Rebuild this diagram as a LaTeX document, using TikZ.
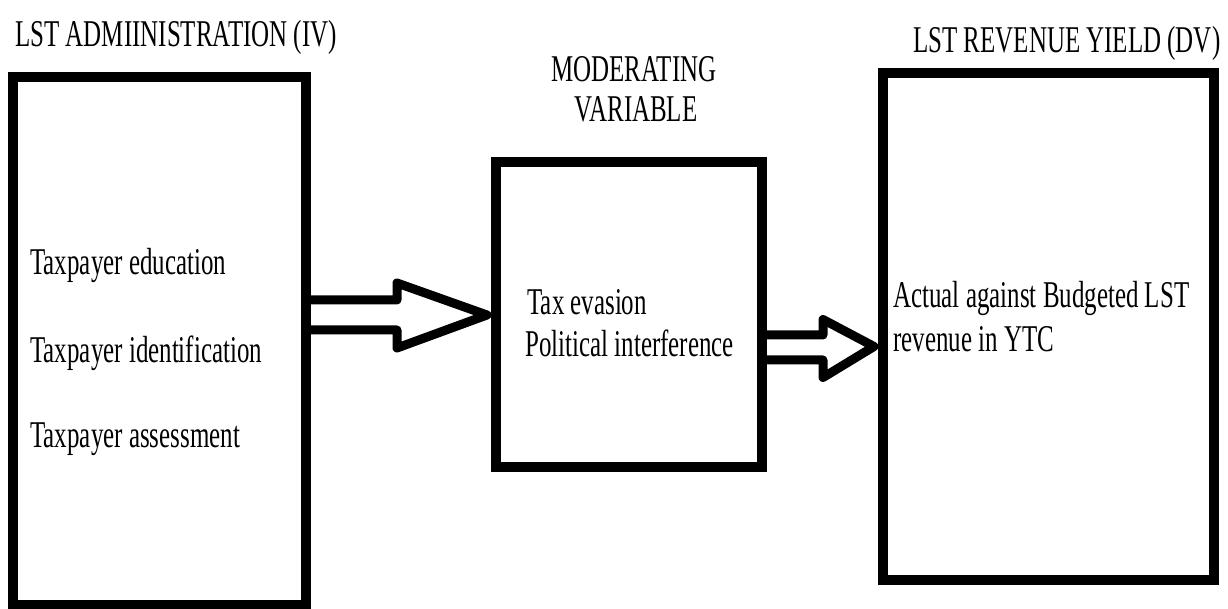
\documentclass[tikz,border=0pt]{standalone}
\usepackage{fontspec}
\usepackage{tikz}
\usetikzlibrary{calc}

\newfontfamily\condserif{Liberation Serif}[FakeStretch=0.66]

\begin{document}
\begin{tikzpicture}[x=0.5pt,y=-0.5pt,
    varbox/.style={draw, line width=5pt, inner sep=0pt},
    txt/.style={font={\condserif\fontsize{18.9pt}{21pt}\selectfont}, inner sep=0pt},
    fatarrow/.style={draw, line width=4.5pt, line join=round}]
            \useasboundingbox (0,0) rectangle (1228,609);

            % Draw the three boxes
            \node[varbox, minimum width=146.5pt, minimum height=264pt] (adm) at (159.5,341) {};
            \node[varbox, minimum width=133pt, minimum height=152.5pt] (mod) at (629,314.5) {};
            \node[varbox, minimum width=165.5pt, minimum height=253.5pt] (rev) at (1048.5,326.5) {};

            % Headings above the boxes
            \node[txt, anchor=base west] (ivtitle) at (15,47) {LST ADMIINISTRATION (IV)};
            \node[txt, anchor=base] (mvtitle) at (634,82) {MODERATING};
            \node[txt, anchor=base] (mvtitleb) at (636,122) {VARIABLE};
            \node[txt, anchor=base west] (dvtitle) at (913,53) {LST REVENUE YIELD (DV)};

            % Texts in the boxes
            \node[txt, anchor=base west] (educ) at (30,275) {Taxpayer education};
            \node[txt, anchor=base west] (ident) at (30,363) {Taxpayer identification};
            \node[txt, anchor=base west] (assess) at (30,448) {Taxpayer assessment};
            \node[txt, anchor=base west] (evasion) at (527,315) {Tax evasion};
            \node[txt, anchor=base west] (polit) at (525,357) {Political interference};
            \node[txt, anchor=base west] (actual) at (893,308) {Actual against Budgeted LST};
            \node[txt, anchor=base west] (ytc) at (893,352) {revenue in YTC};

            % Add the hollow arrows
            \coordinate (tailA) at (adm.east |- 0,315);
            \coordinate (headA) at (mod.west |- 0,315);
            \draw[fatarrow] ($(tailA)+(0,-15)$) -- ($(headA)+(-94,-15)$) -- ($(headA)+(-94,-32)$)
                -- ($(headA)+(-4,0)$) -- ($(headA)+(-94,33)$) -- ($(headA)+(-94,15)$) -- ($(tailA)+(0,15)$);
            \coordinate (tailB) at (mod.east |- 0,347.5);
            \coordinate (headB) at (rev.west |- 0,347.5);
            \draw[fatarrow] ($(tailB)+(0,-12.5)$) -- ($(headB)+(-55,-12.5)$) -- ($(headB)+(-55,-28)$)
                -- ($(headB)+(-4,-1)$) -- ($(headB)+(-55,30)$) -- ($(headB)+(-55,12.5)$) -- ($(tailB)+(0,12.5)$);
        \end{tikzpicture}
\end{document}
